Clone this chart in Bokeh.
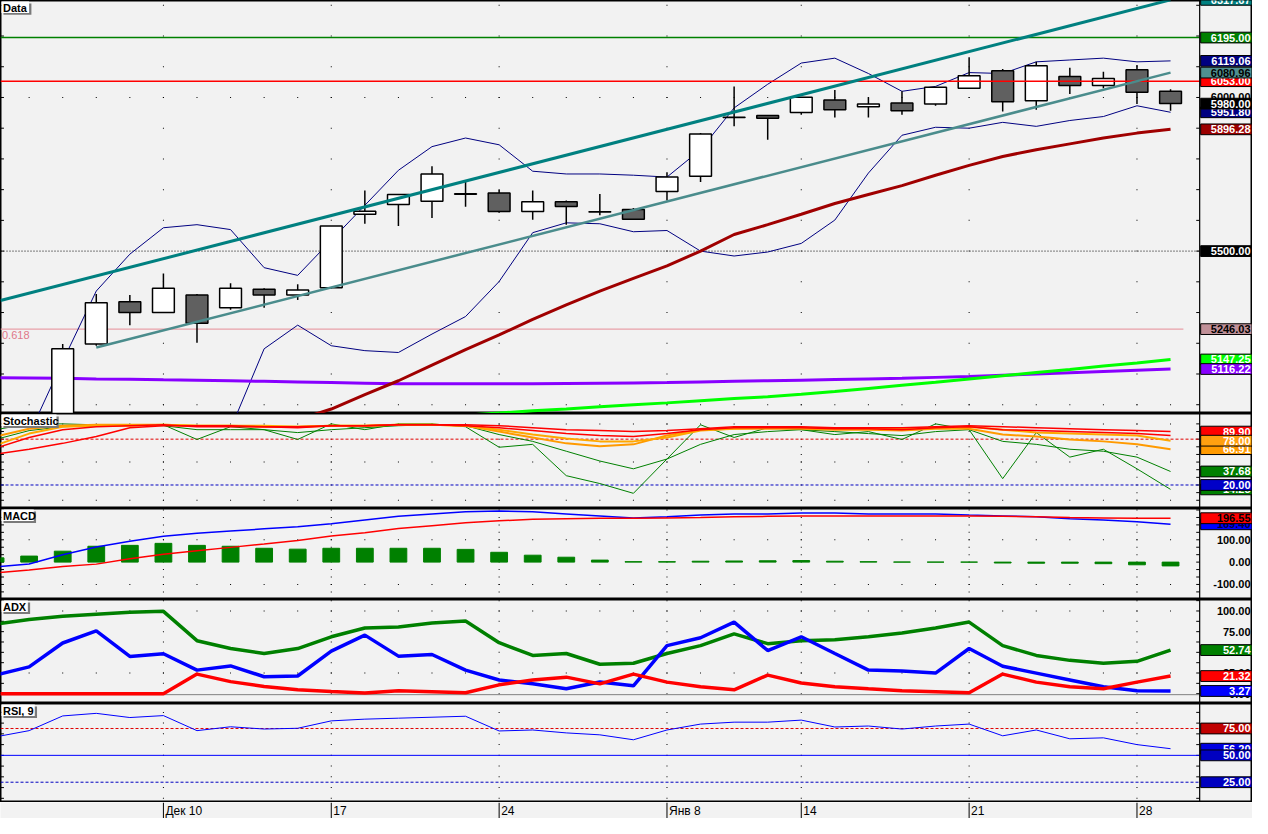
from bokeh.plotting import figure
from bokeh.layouts import column
from bokeh.models import Range1d
from bokeh.core.properties import value
from bokeh.embed import file_html
from bokeh.resources import INLINE

FONT = value("Liberation Sans")
BG = "#f2f2f2"

# ---------------- data ----------------
bars = list(range(34))            # trading days Dec 5 .. Jan 29
ext = list(range(-2, 34))         # indicator series incl. two earlier days
opens  = [4940, 5198, 5335, 5300, 5357, 5316, 5376, 5357, 5381, 5620, 5652, 5662, 5687, 5689, 5629, 5661, 5628, 5635, 5694, 5744,
          5936, 5941, 5951, 5992, 5970, 5982, 5979, 6030, 6087, 5989, 6068, 6039, 6090, 6020]
highs  = [5198, 5360, 5357, 5427, 5360, 5395, 5379, 5392, 5582, 5697, 5684, 5776, 5731, 5700, 5697, 5665, 5686, 5640, 5757, 5884,
          6036, 5941, 6001, 6024, 6001, 6020, 6033, 6131, 6093, 6116, 6097, 6084, 6106, 6027]
lows   = [4920, 5192, 5259, 5300, 5202, 5309, 5316, 5341, 5378, 5589, 5582, 5608, 5644, 5625, 5602, 5586, 5617, 5604, 5665, 5725,
          5906, 5862, 5944, 5935, 5935, 5944, 5973, 6030, 5954, 5960, 6011, 6030, 5979, 5957]
closes = [5182, 5332, 5300, 5379, 5265, 5379, 5357, 5373, 5582, 5630, 5684, 5751, 5685, 5629, 5661, 5645, 5627, 5604, 5741, 5881,
          5935, 5932, 6001, 5960, 5979, 5957, 6033, 6071, 5986, 6103, 6039, 6062, 6017, 5980]

bb_upper = [4700, 4903, 5141, 5370, 5490, 5576, 5586, 5570, 5446, 5421, 5535, 5649, 5763, 5840, 5868, 5846, 5760, 5751, 5751, 5747,
            5741, 5830, 5966, 6043, 6112, 6128, 6078, 6020, 6036, 6081, 6078, 6116, 6122, 6128, 6116, 6119.06]
bb_lower_x = list(range(5, 34))
bb_lower = [4921, 5182, 5259, 5192, 5176, 5170, 5230, 5287, 5401, 5560, 5592, 5589, 5563, 5567, 5500, 5484, 5497, 5525, 5601, 5754,
            5877, 5903, 5900, 5919, 5906, 5925, 5938, 5973, 5951.80]
ma_x = list(range(7, 34))
ma_slow = [4951, 4986, 5033, 5078, 5129, 5179, 5227, 5278, 5325, 5370, 5411, 5452, 5500, 5554, 5586, 5620, 5655, 5684, 5713, 5747,
           5779, 5808, 5830, 5849, 5868, 5884, 5896.28]
ma_purple = [5088, 5087, 5086, 5084, 5083, 5081, 5080, 5078, 5076, 5074, 5072, 5070, 5068, 5068, 5068, 5068, 5068, 5069, 5070, 5071,
             5072, 5074, 5076, 5078, 5080, 5082, 5084, 5086, 5089, 5092, 5096, 5100, 5104, 5108, 5112, 5116.22]
ma_green_x = list(range(12, 34))
ma_green = [4966, 4973, 4980, 4986, 4993, 5000, 5006, 5013, 5020, 5026, 5034, 5043, 5053, 5063, 5073, 5084, 5094, 5105, 5115, 5126,
            5136, 5147.25]
chan_upper_x = [-1.853, 33]
chan_upper = [5339, 6317.67]
chan_lower_x = [1, 33]
chan_lower = [5186, 6080.96]
level_high = 6195.00
level_red = 6053.00
level_mid = 5500.00
fib_618 = 5246.03
price_axis_labels = [6000.00]

stoch_r1 = [60.4, 66.8, 74.5, 83.5, 95.0, 97.6, 97.6, 97.6, 96.3, 96.3, 97.6, 97.6, 98.8, 98.8, 98.8, 97.6, 95.0, 92.4, 91.2, 89.9,
            91.2, 93.7, 96.3, 96.3, 96.3, 95.0, 95.0, 95.0, 96.3, 97.6, 96.3, 95.0, 93.7, 92.4, 91.2, 89.9]
stoch_r2 = [68.1, 82.2, 92.4, 96.3, 97.6, 98.8, 96.3, 96.3, 96.3, 95.0, 97.6, 97.6, 98.8, 98.8, 97.6, 95.0, 91.2, 87.3, 84.7, 83.5,
            87.3, 92.4, 95.0, 95.0, 95.0, 93.7, 93.7, 92.4, 95.0, 96.3, 92.4, 91.2, 89.9, 88.6, 87.3, 84.7]
stoch_o1 = [71.9, 87.3, 96.3, 97.6, 97.6, 98.8, 97.6, 97.6, 97.6, 96.3, 97.6, 97.6, 98.8, 98.8, 97.6, 92.4, 86.0, 80.9, 77.1, 77.1,
            82.2, 91.2, 93.7, 95.0, 95.0, 93.7, 93.7, 93.7, 95.0, 96.3, 92.4, 88.6, 87.3, 86.0, 84.7, 78.00]
stoch_o2 = [83.5, 93.7, 97.6, 98.8, 98.8, 98.8, 97.6, 97.6, 96.3, 96.3, 97.6, 97.6, 98.8, 98.8, 97.6, 89.9, 82.2, 74.5, 70.6, 73.2,
            84.7, 92.4, 93.7, 93.7, 93.7, 92.4, 92.4, 91.2, 93.7, 93.7, 86.0, 83.5, 79.6, 77.1, 73.2, 66.91]
stoch_g1 = [92.4, 100, 100, 98.8, 98.8, 98.8, 79.6, 96.3, 92.4, 79.6, 100, 92.4, 100, 100, 96.3, 69.4, 73.2, 32.2, 21.9, 9.1,
            54.0, 98.8, 82.2, 95.0, 92.4, 86.0, 89.9, 79.6, 100, 92.4, 28.3, 88.6, 56.5, 66.8, 41.2, 14.25]
stoch_g2 = [79.6, 91.2, 96.3, 97.6, 98.8, 97.6, 92.4, 92.4, 92.4, 88.6, 92.4, 95.0, 97.6, 98.8, 97.6, 86.0, 77.1, 64.2, 51.4, 41.2,
            54.0, 73.2, 86.0, 89.9, 92.4, 89.9, 87.3, 84.7, 89.9, 92.4, 77.1, 73.2, 66.8, 64.2, 56.5, 37.68]
stoch_hi, stoch_lo = 80, 20

macd_line = [-22, -8, 33, 68, 93, 116, 129, 139, 149, 158, 172, 189, 205, 216, 225, 229, 225, 216, 207, 198,
             203, 211, 216, 216, 220, 220, 216, 216, 216, 211, 207, 203, 194, 189, 181, 169.40]
macd_signal = [-48, -35, -20, -9, 15, 35, 51, 66, 81, 97, 117, 132, 150, 163, 176, 185, 192, 194, 196, 196,
               198, 200, 203, 205, 207, 207, 207, 207, 207, 207, 205, 203, 200, 198, 196, 196.55]
macd_hist = [19, 27, 49, 71, 75, 84, 75, 71, 62, 58, 62, 62, 62, 62, 57, 44, 31, 22, 9, 2,
             2, 4, 5, 6, 7, 4, 2, 0.5, 0, 0, -4, -5, -5, -7, -12, -17]
macd_axis = [100.00, 0.00, -100.00]

adx = [84, 89.6, 93.7, 96.1, 98.5, 99.6, 64.1, 54.6, 48.6, 54.6, 68.8, 79.5, 80.7, 85.4, 87.8, 61.7, 46.3, 48.6, 35.6, 36.8,
       48.6, 58.1, 72.4, 60.5, 64.1, 65.2, 68.8, 73.5, 79.5, 86.6, 58.1, 46.3, 40.3, 36.8, 39.1, 52.74]
di_plus = [22.5, 32.4, 61.3, 75.9, 45.1, 48.3, 28.5, 33.6, 20.5, 21.4, 51.4, 70.8, 45.4, 47.4, 28.5, 16.6, 11.9, 5.9, 14.2, 9.5,
           58.1, 67.6, 86.6, 52.2, 68.8, 48.6, 28.5, 27.3, 24.9, 54.6, 33.2, 24.9, 16.6, 8.3, 3.6, 3.27]
di_minus = [0, 0, 0, 0, 0, 0, 23.7, 14.6, 8.7, 4.7, 2.7, 0.8, 3.6, 2.4, 1.2, 10.7, 16.6, 20.0, 11.9, 23.7,
            14.0, 8.3, 4.7, 22.5, 13.0, 8.3, 5.9, 3.6, 2.4, 1.2, 23.7, 14.0, 8.3, 5.9, 14.0, 21.32]
adx_axis = [100.00, 75.00, 50.00, 25.00, 0.00]

rsi = [67.2, 73.0, 86.7, 89.1, 85.2, 87.0, 73.0, 76.6, 74.5, 75.2, 82.1, 83.7, 84.6, 85.5, 86.4, 72.7, 73.6, 70.9, 69.1, 64.5,
       73.6, 79.1, 80.9, 80.9, 82.8, 76.4, 77.3, 74.5, 77.3, 79.1, 68.2, 73.6, 65.4, 66.3, 60.0, 56.20]
rsi_levels = [75.00, 50.00, 25.00]

week_idx = [3, 8, 13, 18, 22, 27, 32]
week_labels = ["Дек 10", "17", "24", "Янв 8", "14", "21", "28"]

# ---------------- layout helpers ----------------
REF_W = 1268


def X(px):
    return (px - 63) / 34.0


XR = Range1d(X(0), X(REF_W))


class Panel:
    def __init__(self, top, bottom, y0, k, h):
        self.top, self.bottom, self.y0, self.k, self.h = top, bottom, y0, k, h

    def v(self, yref):
        return (self.y0 - yref) / self.k


def make_fig(pn, outline=True):
    p = figure(width=1252, height=pn.h, x_range=XR,
               y_range=Range1d(pn.v(pn.bottom), pn.v(pn.top)),
               output_backend="svg", toolbar_location=None, min_border=0,
               x_axis_location=None, y_axis_location=None,
               background_fill_color=BG, border_fill_color=BG,
               outline_line_color="black" if outline else None, outline_line_width=2)
    p.grid.visible = False
    return p


def dots(p, levels, rows):
    xs, ys = [], []
    for w in week_idx:
        for lv in levels:
            xs.append(w)
            ys.append(lv)
    for r in rows:
        for i in range(-1, 34):
            xs.append(i)
            ys.append(r)
    p.rect(x=xs, y=ys, width=1, height=1, width_units="screen", height_units="screen",
           fill_color="black", line_color=None)


def ticks(p, levels):
    n = len(levels)
    p.segment(x0=[X(0)] * n, x1=[X(3.5)] * n, y0=levels, y1=levels, line_color="black", line_width=1)
    p.segment(x0=[X(1211)] * n, x1=[X(1214.5)] * n, y0=levels, y1=levels, line_color="black", line_width=1)


def separator(p, pn):
    p.segment(x0=[X(1214.5)], x1=[X(1214.5)], y0=[pn.v(pn.bottom)], y1=[pn.v(pn.top)],
              line_color="black", line_width=1.2)


def hline(p, val, color, width=1.0, dash="solid", x1=1214.5):
    p.segment(x0=[X(0)], x1=[X(x1)], y0=[val], y1=[val], line_color=color, line_width=width, line_dash=dash)


def tag(p, pn, val, fill, tcolor, box=True):
    hh = 5.5 / pn.k
    if box:
        p.quad(left=[X(1215.5)], right=[X(1267.5)], top=[val + hh], bottom=[val - hh],
               fill_color=fill, line_color="black", line_width=1)
    p.text(x=[X(1266)], y=[val], text=[f"{val:.2f}"], text_align="right", text_baseline="middle",
           text_font=FONT, text_font_size="11px", text_font_style="bold", text_color=tcolor)


def title(p, pn, text, w):
    T = pn.top
    p.quad(left=[X(3)], right=[X(w + 4)], top=[pn.v(T + 3)], bottom=[pn.v(T + 14.7)],
           fill_color="#7a7a7a", line_color=None)
    p.quad(left=[X(1)], right=[X(w + 1.7)], top=[pn.v(T + 1)], bottom=[pn.v(T + 12.7)],
           fill_color="white", line_color=None)
    p.text(x=[X(2.5)], y=[pn.v(T + 7.2)], text=[text], text_baseline="middle",
           text_font=FONT, text_font_size="11px", text_font_style="bold", text_color="black")


# ---------------- price panel ----------------
PP = Panel(0, 423.5, 38 + 6195 / 3.174, 1 / 3.174, 413)
pp = make_fig(PP)
dots(pp, list(range(5000, 6400, 100)), [5000, 6000])
ticks(pp, list(range(5000, 6400, 100)))
hline(pp, fib_618, "#e8a0a8", 1.2, "solid", x1=1198)
pp.text(x=[X(1.5)], y=[fib_618], text=["0.618"], text_baseline="top", y_offset=2,
        text_font=FONT, text_font_size="11px", text_color="#e07888")
hline(pp, level_mid, "black", 1, "1 2")
pp.line(ext, bb_upper, line_color="#000080", line_width=1)
pp.line(bb_lower_x, bb_lower, line_color="#000080", line_width=1)
pp.line(ext, ma_purple, line_color="#8800ff", line_width=3)
pp.line(ma_green_x, ma_green, line_color="#00ff00", line_width=3)
pp.line(ma_x, ma_slow, line_color="#a00000", line_width=3)
body_top = [max(o, c) for o, c in zip(opens, closes)]
body_bot = [min(o, c) for o, c in zip(opens, closes)]
body_col = ["white" if c > o else "#606060" for o, c in zip(opens, closes)]
pp.segment(x0=bars, x1=bars, y0=lows, y1=highs, line_color="black", line_width=1.5)
pp.vbar(x=bars, width=0.65, top=body_top, bottom=body_bot, fill_color=body_col,
        line_color="black", line_width=1.5)
hline(pp, level_high, "#008000", 1.5)
hline(pp, level_red, "#ff0000", 1.5)
pp.line(chan_upper_x, chan_upper, line_color="#008080", line_width=3)
pp.line(chan_lower_x, chan_lower, line_color="#4a8c8c", line_width=2.5)
for val in price_axis_labels:
    tag(pp, PP, val, None, "black", box=False)
tag(pp, PP, level_red, "#ff0000", "white")
tag(pp, PP, chan_lower[-1], "#4f9090", "black")
tag(pp, PP, chan_upper[-1], "#008080", "white")
tag(pp, PP, level_high, "#008000", "white")
tag(pp, PP, bb_upper[-1], "#000080", "white")
tag(pp, PP, bb_lower[-1], "#000080", "white")
tag(pp, PP, closes[-1], "black", "white")
tag(pp, PP, ma_slow[-1], "#9b0000", "white")
tag(pp, PP, level_mid, "black", "white")
tag(pp, PP, fib_618, "#c09098", "black")
tag(pp, PP, ma_green[-1], "#00ff00", "white")
tag(pp, PP, ma_purple[-1], "#8800ff", "white")
separator(pp, PP)
title(pp, PP, "Data", 27.3)

# ---------------- stochastic ----------------
SP = Panel(423.5, 520.5, 512.1, 0.78, 95)
sp = make_fig(SP)
dots(sp, list(range(0, 110, 10)), [0, 50, 100])
ticks(sp, list(range(0, 110, 10)))
hline(sp, stoch_hi, "#e00000", 1, "3 2")
hline(sp, stoch_lo, "#0000c0", 1, "3 2")
sp.line(ext, stoch_g2, line_color="#008000", line_width=1)
sp.line(ext, stoch_g1, line_color="#008000", line_width=1)
sp.line(ext, stoch_o2, line_color="#ff9a00", line_width=2)
sp.line(ext, stoch_o1, line_color="#ffa800", line_width=2)
sp.line(ext, stoch_r2, line_color="#ff0000", line_width=1.5)
sp.line(ext, stoch_r1, line_color="#ff0000", line_width=1.5)
tag(sp, SP, stoch_r1[-1], "#ff0000", "white")
tag(sp, SP, stoch_o2[-1], "#ff9a00", "white")
tag(sp, SP, stoch_o1[-1], "#ffa010", "white")
tag(sp, SP, stoch_g2[-1], "#008000", "white")
tag(sp, SP, stoch_g1[-1], "#008000", "white")
tag(sp, SP, stoch_lo, "#0000c8", "white")
separator(sp, SP)
title(sp, SP, "Stochastic", 55)

# ---------------- MACD ----------------
MP = Panel(520.5, 613, 575, 0.227, 91)
mp = make_fig(MP)
mlev = [-166.67 + i * 33.333 for i in range(13)]
dots(mp, mlev, [-100, 100])
ticks(mp, mlev)
mp.vbar(x=ext, width=0.5, top=macd_hist, bottom=0, fill_color="#008000", line_color="#008000", line_width=1)
mp.line(ext, macd_line, line_color="#0000ff", line_width=1.5)
mp.line(ext, macd_signal, line_color="#ff0000", line_width=1.5)
for val in macd_axis:
    tag(mp, MP, val, None, "black", box=False)
tag(mp, MP, macd_line[-1], "#0000ff", "#000040")
tag(mp, MP, macd_signal[-1], "#ff0000", "black")
separator(mp, MP)
title(mp, MP, "MACD", 32)

# ---------------- ADX ----------------
AP = Panel(613, 719, 709, 0.843, 104)
ap = make_fig(AP)
alev = [i * 12.5 for i in range(10)]
dots(ap, alev, [25, 100])
ticks(ap, alev)
ap.segment(x0=[X(0)], x1=[X(1214)], y0=[AP.v(710)], y1=[AP.v(710)], line_color="#808080", line_width=1)
ap.line(ext, adx, line_color="#008000", line_width=3.5)
ap.line(ext, di_plus, line_color="#0000ff", line_width=3.5)
ap.line(ext, di_minus, line_color="#ff0000", line_width=3.5)
for val in adx_axis:
    tag(ap, AP, val, None, "black", box=False)
tag(ap, AP, adx[-1], "#008000", "white")
tag(ap, AP, di_minus[-1], "#ff0000", "white")
tag(ap, AP, di_plus[-1], "#0000ff", "white")
separator(ap, AP)
title(ap, AP, "ADX", 26)

# ---------------- RSI ----------------
RP = Panel(719, 820, 826.7, 1.096, 99)
rp = make_fig(RP)
rlev = [10 * i for i in range(1, 10)]
dots(rp, rlev, [])
ticks(rp, rlev)
hline(rp, rsi_levels[0], "#e00000", 1, "3 2")
hline(rp, rsi_levels[1], "#0000ff", 1)
hline(rp, rsi_levels[2], "#0000c0", 1, "3 2")
rp.line(ext, rsi, line_color="#0000ff", line_width=1)
tag(rp, RP, rsi[-1], "#0000e0", "white")
tag(rp, RP, rsi_levels[0], "#c00000", "white")
tag(rp, RP, rsi_levels[1], "#0000c0", "white")
tag(rp, RP, rsi_levels[2], "#0000c0", "white")
separator(rp, RP)
title(rp, RP, "RSI, 9", 33)

# ---------------- date row ----------------
DP = Panel(818, 834, 834, 16, 16)
dp = make_fig(DP, outline=False)
dp.segment(x0=week_idx, x1=week_idx, y0=[0] * 7, y1=[1] * 7, line_color="black", line_width=1)
dp.text(x=week_idx, y=[0.5] * 7, text=week_labels, x_offset=2, text_baseline="middle",
        text_font=FONT, text_font_size="12px", text_color="black")

layout = column(pp, sp, mp, ap, rp, dp, spacing=0)
open("out.html", "w").write(file_html(layout, INLINE))
